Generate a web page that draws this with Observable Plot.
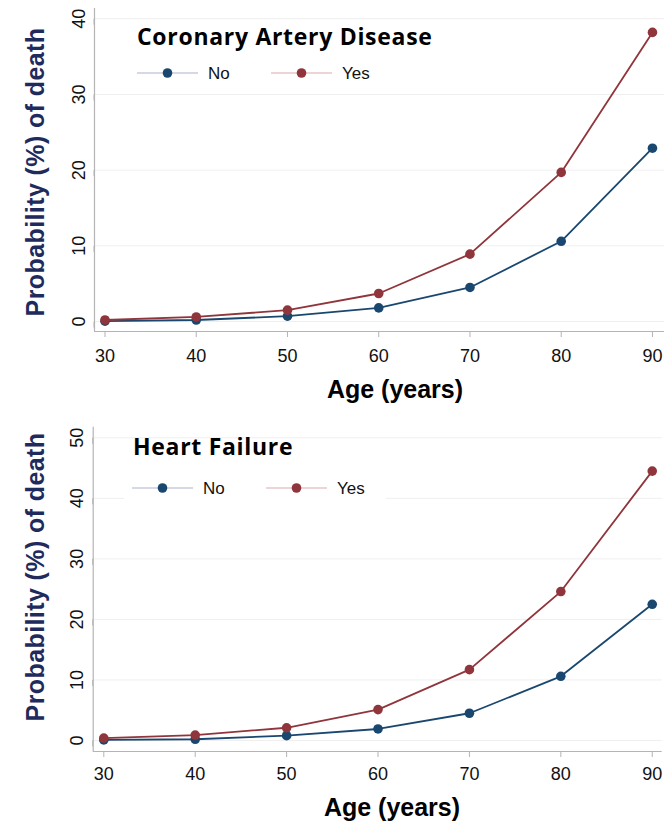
<!DOCTYPE html>
<html>
<head>
<meta charset="utf-8">
<script src="https://cdn.jsdelivr.net/npm/d3@7"></script>
<script src="https://cdn.jsdelivr.net/npm/@observablehq/plot@0.6"></script>
<style>
  body { margin: 0; background: #fff; }
  #chart { position: relative; width: 667px; height: 822px; overflow: hidden; }
  #chart > div, #chart > svg { position: absolute; left: 0; }
</style>
</head>
<body>
<div id="chart"></div>
<script>
// ---- data ----
const ages = [30, 40, 50, 60, 70, 80, 90];
const groups = ["No", "Yes"];
const cadNo  = [0.05, 0.2, 0.7, 1.8, 4.5, 10.6, 22.9];
const cadYes = [0.2, 0.6, 1.5, 3.7, 8.9, 19.7, 38.2];
const hfNo   = [0.1, 0.2, 0.8, 1.9, 4.5, 10.6, 22.5];
const hfYes  = [0.4, 0.9, 2.1, 5.1, 11.7, 24.6, 44.5];
const cadTicks = [0, 10, 20, 30, 40];
const hfTicks  = [0, 10, 20, 30, 40, 50];
const titles = ["Coronary Artery Disease", "Heart Failure"];
const yTitle = "Probability (%) of death";
const xTitle = "Age (years)";

const colors = ["#1a476f", "#90353b"];
const legendLineColors = ["#c9cbdc", "#e8c6c8"];
const axisColor = "#b4b4b4";
const gridColor = "#efefef";
const sans = "Liberation Sans, Arial, sans-serif";
const titleFont = "Open Sans, Lato, sans-serif";

function rows(no, yes) {
  return [
    ...ages.map((a, i) => ({age: a, value: no[i], group: "No"})),
    ...ages.map((a, i) => ({age: a, value: yes[i], group: "Yes"}))
  ];
}

function panel(cfg) {
  const data = rows(cfg.no, cfg.yes);
  const H = 411, W = 667;
  const plot = Plot.plot({
    width: W, height: H,
    marginLeft: cfg.ml, marginRight: cfg.mr, marginTop: cfg.mt, marginBottom: cfg.mb,
    x: {domain: cfg.xDomain},
    y: {domain: cfg.yDomain},
    color: {domain: groups, range: colors},
    style: {fontFamily: sans, fontSize: "18px", background: "white", overflow: "visible", color: "#111"},
    marks: [
      Plot.ruleY(cfg.yTicks, {stroke: gridColor, strokeWidth: 1}),
      Plot.ruleX([cfg.xDomain[0]], {stroke: axisColor, strokeWidth: 1.2}),
      Plot.ruleY([cfg.yDomain[0]], {stroke: axisColor, strokeWidth: 1.2}),
      Plot.axisX(ages, {anchor: "bottom", tickSize: 6, tickPadding: cfg.xPad, stroke: axisColor, fill: "#111", fontSize: 18, label: null}),
      Plot.axisY(cfg.yTicks, {anchor: "left", tickSize: 6, tickPadding: cfg.yPad, tickRotate: -90, rotate: -90, textAnchor: "middle", lineAnchor: "middle", stroke: axisColor, fill: "#111", fontSize: 18, label: null}),
      Plot.line(data.filter(d => d.group === "No"), {x: "age", y: "value", stroke: "group", strokeWidth: 1.8}),
      Plot.dot(data.filter(d => d.group === "No"), {x: "age", y: "value", fill: "group", r: 4.8}),
      Plot.line(data.filter(d => d.group === "Yes"), {x: "age", y: "value", stroke: "group", strokeWidth: 1.8}),
      Plot.dot(data.filter(d => d.group === "Yes"), {x: "age", y: "value", fill: "group", r: 4.8})
    ]
  });
  const svg = d3.select(plot.tagName === "svg" ? plot : plot.querySelector("svg"));

  // legend background (covers gridlines)
  const lg = cfg.legend;
  svg.insert("rect", "g:nth-of-type(2)")
    .attr("x", lg.boxX0).attr("y", lg.y - 18).attr("width", lg.boxX1 - lg.boxX0).attr("height", 34)
    .attr("fill", "white");

  // title
  svg.append("text")
    .attr("x", cfg.titleX).attr("y", cfg.titleBaseline)
    .attr("text-anchor", "start")
    .attr("font-family", titleFont).attr("font-weight", 700).attr("font-size", 23)
    .attr("letter-spacing", "0.7px")
    .attr("fill", "#000")
    .text(cfg.title);

  // legend
  groups.forEach((g, i) => {
    const x0 = lg.x[i];
    svg.append("line")
      .attr("x1", x0).attr("x2", x0 + 61).attr("y1", lg.y).attr("y2", lg.y)
      .attr("stroke", legendLineColors[i]).attr("stroke-width", 1.5);
    svg.append("circle")
      .attr("cx", x0 + 30.5).attr("cy", lg.y).attr("r", 4.8).attr("fill", colors[i]);
    svg.append("text")
      .attr("x", x0 + 71).attr("y", lg.y).attr("dy", "0.36em")
      .attr("text-anchor", "start")
      .attr("font-family", sans).attr("font-size", 17).attr("fill", "#111")
      .text(g);
  });

  // y title
  svg.append("text")
    .attr("transform", `translate(${cfg.yTitleX},${cfg.yTitleY}) rotate(-90)`)
    .attr("text-anchor", "middle")
    .attr("font-family", sans).attr("font-weight", 700).attr("font-size", 25)
    .attr("letter-spacing", "0.4px")
    .attr("fill", "#1e2b5c")
    .text(yTitle);

  // x title
  svg.append("text")
    .attr("x", cfg.xTitleX).attr("y", cfg.xTitleBaseline)
    .attr("text-anchor", "middle")
    .attr("font-family", sans).attr("font-weight", 700).attr("font-size", 25)
    .attr("fill", "#000")
    .text(xTitle);

  plot.style.top = cfg.top + "px";
  return plot;
}

const chart = document.getElementById("chart");
chart.appendChild(panel({
  top: 0, no: cadNo, yes: cadYes, yTicks: cadTicks,
  ml: 94, mr: 3, mt: 8, mb: 80,
  xDomain: [28.85, 91.32], yDomain: [-1.32, 41.36],
  xPad: 12, yPad: 9,
  title: titles[0], titleX: 137, titleBaseline: 45,
  legend: {x: [137, 271], y: 73, boxX0: 126, boxX1: 388},
  yTitleX: 43.5, yTitleY: 172,
  xTitleX: 395, xTitleBaseline: 398
}));
chart.appendChild(panel({
  top: 411, no: hfNo, yes: hfYes, yTicks: hfTicks,
  ml: 92.7, mr: 5.3, mt: 15.7, mb: 71,
  xDomain: [28.84, 91.09], yDomain: [-1.82, 51.75],
  xPad: 10, yPad: 10,
  title: titles[1], titleX: 133, titleBaseline: 44,
  legend: {x: [132, 266], y: 77, boxX0: 124, boxX1: 386},
  yTitleX: 43.5, yTitleY: 166,
  xTitleX: 392, xTitleBaseline: 405
}));
</script>
</body>
</html>
